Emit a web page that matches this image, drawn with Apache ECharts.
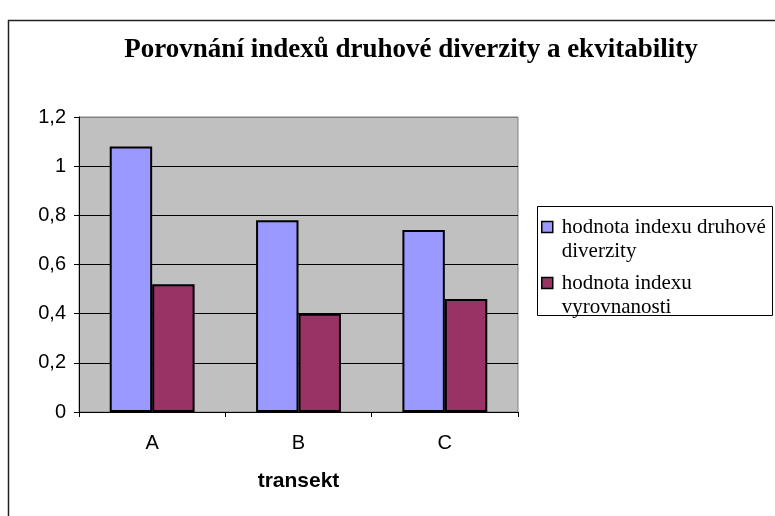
<!DOCTYPE html>
<html>
<head>
<meta charset="utf-8">
<script src="https://cdn.jsdelivr.net/npm/echarts@6/dist/echarts.min.js"></script>
<style>
  html, body { margin: 0; padding: 0; background: #fff; }
  #chart { width: 775px; height: 516px; }
</style>
</head>
<body>
<div id="chart"></div>
<script>
// Transects and the two index values per transect
const categories = ['A', 'B', 'C'];
const diversityName = 'hodnota indexu druhové diverzity';
const evennessName = 'hodnota indexu vyrovnanosti';
const diversityValues = [1.08, 0.78, 0.74];
const evennessValues = [0.52, 0.40, 0.46];
const yTickValues = [0, 0.2, 0.4, 0.6, 0.8, 1.0, 1.2];
// legend text split into two lines; the leading empty line keeps the
// swatch level with the first line of text
const legendLines = {};
legendLines[diversityName] = '\nhodnota indexu druhové\ndiverzity';
legendLines[evennessName] = '\nhodnota indexu\nvyrovnanosti';

const chart = echarts.init(document.getElementById('chart'), null, { renderer: 'canvas' });

const fmtComma = v => String(Math.round(v * 10) / 10).replace('.', ',');

// gridlines are black, the top one blends into the grey plot frame
const gridLineColors = yTickValues.map((v, i) => (i === yTickValues.length - 1 ? '#808080' : '#000'));

chart.setOption({
  animation: false,
  backgroundColor: '#ffffff',
  title: {
    text: 'Porovnání indexů druhové diverzity a ekvitability',
    left: 406,
    textAlign: 'center',
    top: 32,
    textStyle: {
      fontFamily: 'Liberation Serif',
      fontWeight: 'bold',
      fontSize: 27,
      color: '#000'
    }
  },
  graphic: [
    {
      type: 'rect',
      shape: { x: 8.5, y: 20.5, width: 800, height: 600 },
      style: { fill: 'none', stroke: '#222', lineWidth: 1.5 },
      silent: true,
      z: -1
    },
    {
      type: 'rect',
      shape: { x: 537.5, y: 206.5, width: 235, height: 109 },
      style: { fill: '#fff', stroke: '#000', lineWidth: 1 },
      silent: true,
      z: 0
    }
  ],
  legend: {
    orient: 'vertical',
    left: 541,
    top: 191,
    padding: 0,
    itemWidth: 11,
    itemHeight: 11,
    itemGap: -16,
    icon: 'rect',
    itemStyle: { borderColor: '#000', borderWidth: 1.5 },
    formatter: name => legendLines[name] || name,
    textStyle: {
      fontFamily: 'Liberation Serif',
      fontSize: 21,
      color: '#000',
      lineHeight: 24,
      padding: [0, 0, 0, 4]
    },
    z: 5
  },
  grid: {
    left: 79,
    right: 257,
    top: 117,
    bottom: 104,
    show: true,
    backgroundColor: '#C0C0C0',
    borderColor: '#808080',
    borderWidth: 1
  },
  xAxis: {
    type: 'category',
    data: categories,
    name: 'transekt',
    nameLocation: 'middle',
    nameGap: 59,
    nameTextStyle: {
      fontFamily: 'Liberation Sans',
      fontWeight: 'bold',
      fontSize: 21,
      color: '#000'
    },
    axisLine: { lineStyle: { color: '#000', width: 1 } },
    axisTick: { show: true, alignWithLabel: false, length: 5, lineStyle: { color: '#000' } },
    axisLabel: {
      fontFamily: 'Liberation Sans',
      fontSize: 20,
      color: '#000',
      margin: 21
    },
    splitLine: { show: false }
  },
  yAxis: {
    type: 'value',
    min: 0,
    max: 1.2,
    interval: 0.2,
    axisLine: { show: true, lineStyle: { color: '#000', width: 1 } },
    axisTick: { show: true, length: 5, lineStyle: { color: '#000' } },
    axisLabel: {
      fontFamily: 'Liberation Sans',
      fontSize: 20,
      color: '#000',
      margin: 13,
      formatter: v => (yTickValues.indexOf(Math.round(v * 10) / 10) >= 0 ? fmtComma(v) : '')
    },
    splitLine: { show: true, lineStyle: { color: gridLineColors, width: 1 } }
  },
  series: [
    {
      name: diversityName,
      type: 'bar',
      data: diversityValues,
      barGap: '0%',
      barCategoryGap: '42%',
      itemStyle: { color: '#9999FF', borderColor: '#000', borderWidth: 2 }
    },
    {
      name: evennessName,
      type: 'bar',
      data: evennessValues,
      barGap: '0%',
      barCategoryGap: '42%',
      itemStyle: { color: '#993366', borderColor: '#000', borderWidth: 2 }
    }
  ]
});
</script>
</body>
</html>
